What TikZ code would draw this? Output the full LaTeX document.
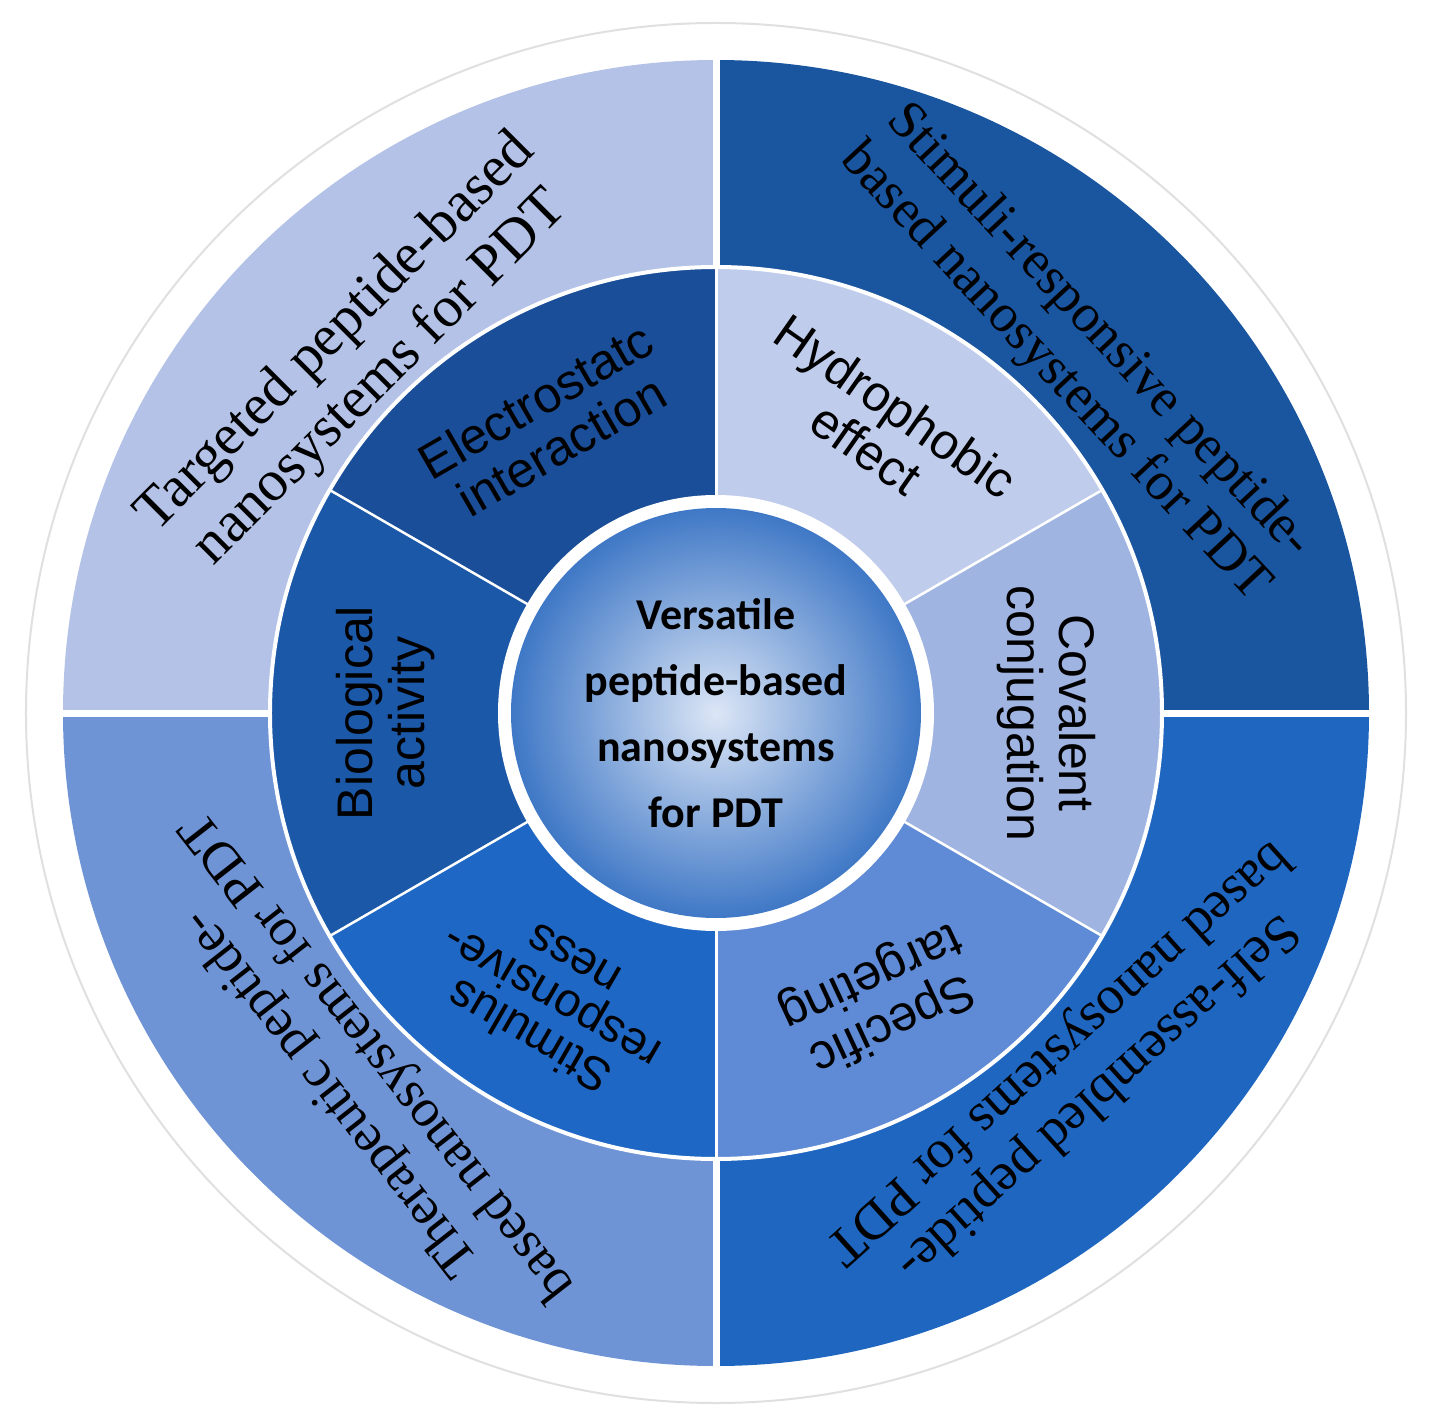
\documentclass[tikz,border=0pt]{standalone}
\usepackage{fontspec}
\setmainfont{Liberation Serif}
\newfontfamily\insans{Liberation Sans}
\newfontfamily\ctrfont{Carlito}
\begin{document}
\begin{tikzpicture}[x=1pt,y=1pt,
  outertxt/.style={align=center,text=black,font=\fontsize{54}{60}\selectfont},
  innertxt/.style={align=center,text=black,font=\insans\fontsize{50}{52}\selectfont},
  ctrtxt/.style={align=center,text=black,font=\ctrfont\bfseries\fontsize{44}{66}\selectfont}]
\definecolor{qTL}{HTML}{B3C2E6}
\definecolor{qTR}{HTML}{1A55A0}
\definecolor{qBL}{HTML}{6F94D6}
\definecolor{qBR}{HTML}{1E66C0}
\definecolor{sE}{HTML}{1A4E98}
\definecolor{sH}{HTML}{C0CCEC}
\definecolor{sC}{HTML}{A0B4E2}
\definecolor{sS}{HTML}{5F8BD6}
\definecolor{sT}{HTML}{1E67C4}
\definecolor{sB}{HTML}{1B58A8}
\definecolor{ballin}{HTML}{DCE6F6}
\definecolor{ballout}{HTML}{3F78C6}
\useasboundingbox (-716,-711) rectangle (715,713);
\fill[white] (-716,-711) rectangle (715,713);
\draw[black!12,line width=2] (0,0) circle (690);
% outer quadrants
\fill[qTR] (0,0) -- (0:653) arc(0:90:653) -- cycle;
\fill[qTL] (0,0) -- (90:653) arc(90:180:653) -- cycle;
\fill[qBL] (0,0) -- (180:653) arc(180:270:653) -- cycle;
\fill[qBR] (0,0) -- (270:653) arc(270:360:653) -- cycle;
\draw[white,line width=7] (-660,0) -- (660,0) (0,-660) -- (0,660);
% inner ring
\fill[sH] (0,0) -- (30:446) arc(30:90:446) -- cycle;
\fill[sE] (0,0) -- (90:446) arc(90:150:446) -- cycle;
\fill[sB] (0,0) -- (150:446) arc(150:210:446) -- cycle;
\fill[sT] (0,0) -- (210:446) arc(210:270:446) -- cycle;
\fill[sS] (0,0) -- (270:446) arc(270:330:446) -- cycle;
\fill[sC] (0,0) -- (330:446) arc(330:390:446) -- cycle;
\draw[white,line width=4] (0,0) circle (446);
\foreach \a in {30,150,210,330} \draw[white,line width=2.5] (0,0) -- (\a:446);
\draw[white,line width=3] (0,-446) -- (0,446);
% center
\fill[white] (0,0) circle (218);
\shade[inner color=ballin, outer color=ballout] (0,0) circle (205);
\node[ctrtxt] (ctr) at (0,0) {Versatile\\peptide-based\\nanosystems\\for PDT};
% inner texts
\node[innertxt,rotate=30] (el) at (120:335) {Electrostatc\\interaction};
\node[innertxt,rotate=-35] (hy) at (60:330) {Hydrophobic\\effect};
\node[innertxt,rotate=-90] (co) at (0:330) {Covalent\\conjugation};
\node[innertxt,rotate=205] (sp) at (-60:330) {Specific\\targeting};
\node[innertxt,rotate=150,font=\insans\fontsize{47}{44}\selectfont] (st) at (-120:330) {Stimulus\\responsive-\\ness};
\node[innertxt,rotate=90] (bi) at (180:330) {Biological\\activity};
% outer texts
\node[outertxt,rotate=45,font=\fontsize{58}{64}\selectfont] (ta) at (135:505) {Targeted peptide-based\\nanosystems for PDT};
\node[outertxt,rotate=-47] (sr) at (45:510) {Stimuli-responsive peptide-\\based nanosystems for PDT};
\node[outertxt,rotate=222] (sa) at (-45:510) {Self-assembled peptide-\\based nanosystems for PDT};
\node[outertxt,rotate=128] (th) at (-135:510) {Therapeutic peptide-\\based nanosystems for PDT};
\end{tikzpicture}
\end{document}
